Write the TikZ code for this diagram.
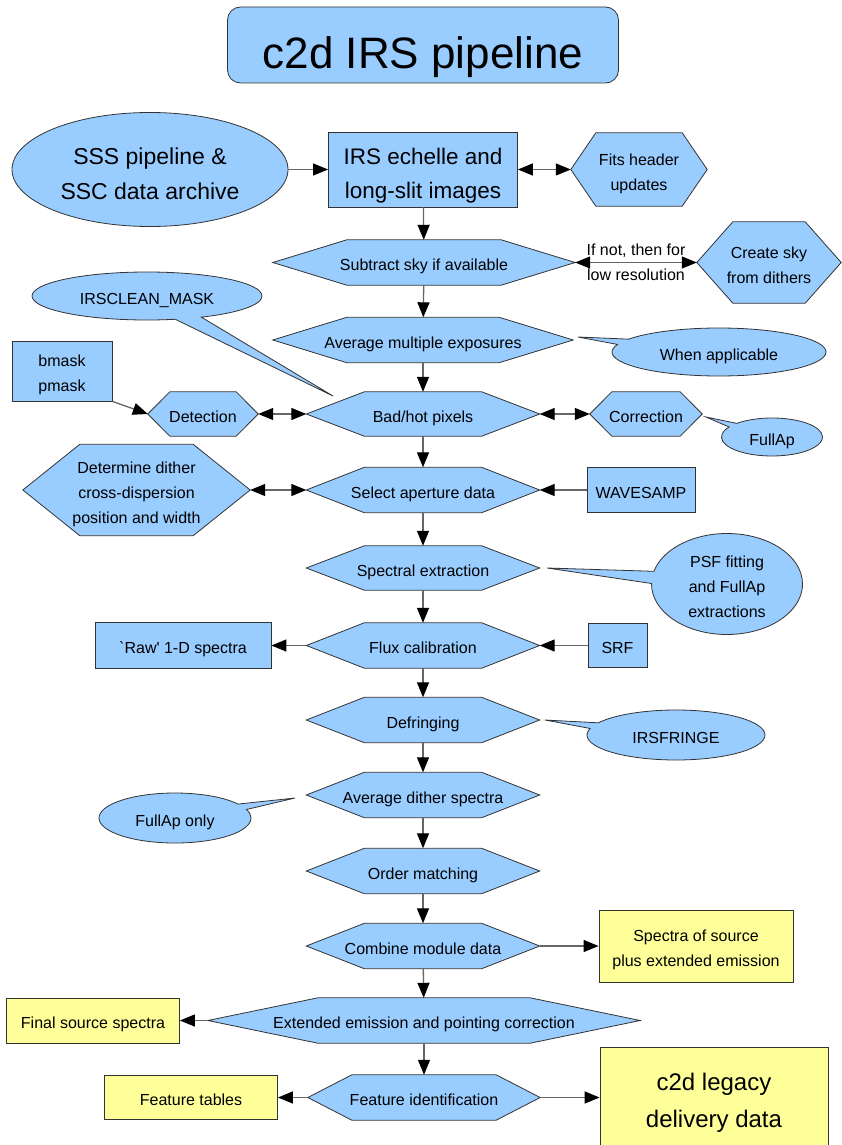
\documentclass[tikz,border=0pt]{standalone}
\usepackage{fontspec}
\setmainfont{Liberation Sans}
\usetikzlibrary{shapes.geometric,shapes.callouts,arrows.meta,backgrounds}
\definecolor{irsBlue}{HTML}{99CCFF}
\definecolor{irsYellow}{HTML}{FFFF99}
\definecolor{irsGrey}{HTML}{333333}
\definecolor{irsLine}{HTML}{666666}
% strut around several lines of node text
\newcommand{\ml}[1]{\rule{0pt}{1.3em}#1\rule[-0.25em]{0pt}{0pt}}

\begin{document}
\begin{tikzpicture}[x=1pt,y=-1pt]
    \tikzset{
        lbl/.style={font=\fontsize{16}{25}\selectfont,align=center,inner sep=0pt},
        txt/.style={lbl,execute at begin node={\rule{0pt}{1.3em}},execute at end node={\rule[-0.25em]{0pt}{0pt}}},
        box/.style={txt,draw=irsGrey,fill=irsBlue,line width=0.8pt},
        outbox/.style={box,fill=irsYellow},
        hexa/.style={txt,minimum height=45pt},
        bubble/.style={txt,ellipse callout,draw=irsGrey,fill=irsBlue,line width=0.8pt,callout pointer arc=14},
        >={Triangle[length=15pt,width=12pt,color=black]},
        link/.style={draw=irsLine,line width=1.3pt,->},
        dlink/.style={draw=irsLine,line width=1.3pt,<->}
    }
    \useasboundingbox (0,0) rectangle (841,1145);

    % title and input
    \node[box,rounded corners=13pt,minimum width=391pt,minimum height=76pt,font=\fontsize{44}{50}\selectfont] (title) at (423,45) {c2d IRS pipeline};
    \node[txt,ellipse,draw=irsGrey,fill=irsBlue,line width=0.8pt,minimum width=276pt,minimum height=114pt,font=\fontsize{23}{35}\selectfont] (sss) at (150,169.5) {\ml{SSS pipeline \&\\SSC data archive}};
    \node[box,minimum width=189pt,minimum height=75pt,font=\fontsize{22.5}{34}\selectfont] (irs) at (423,169.5) {\ml{IRS echelle and\\long-slit images}};
    \node[hexa,minimum width=136pt,minimum height=73pt] (fits) at (639,169.5) {\ml{Fits header\\updates}};

    % main column
    \node[hexa,minimum width=302pt] (sky) at (424,262.5) {Subtract sky if available};
    \node[hexa,minimum width=144pt,minimum height=81pt] (dith) at (769,262.5) {\ml{Create sky\\from dithers}};
    \node[hexa,minimum width=300pt] (avg) at (423,340) {Average multiple exposures};
    \node[hexa,minimum width=233pt,minimum height=44pt] (bad) at (423,414) {Bad/hot pixels};
    \node[hexa,minimum width=110pt,minimum height=44pt] (det) at (203,414) {Detection};
    \node[hexa,minimum width=112pt,minimum height=44pt] (corr) at (646,414) {Correction};
    \node[hexa,minimum width=233pt] (sel) at (423,490) {Select aperture data};
    \node[hexa,minimum width=227pt,minimum height=91pt] (detd) at (136.5,490) {\ml{Determine dither\\cross-dispersion\\position and width}};
    \node[hexa,minimum width=233pt,minimum height=44pt] (spec) at (423,568) {Spectral extraction};
    \node[hexa,minimum width=233pt] (flux) at (423,645.5) {Flux calibration};
    \node[hexa,minimum width=233pt] (defr) at (423,720) {Defringing};
    \node[hexa,minimum width=233pt] (avgd) at (423,795) {Average dither spectra};
    \node[hexa,minimum width=233pt] (order) at (423,871) {Order matching};
    \node[hexa,minimum width=233pt] (comb) at (423,946) {Combine module data};
    \node[hexa,minimum width=432pt] (ext) at (424,1020.5) {Extended emission and pointing correction};
    \node[hexa,minimum width=232pt] (feat) at (424,1097.5) {Feature identification};

    % side boxes
    \node[box,minimum width=100pt,minimum height=60pt] (bmask) at (62,371) {\ml{bmask\\pmask}};
    \node[box,minimum width=108pt,minimum height=45pt] (wave) at (641,490) {WAVESAMP};
    \node[box,minimum width=176pt,minimum height=46pt] (raw) at (183,645.5) {\textasciigrave Raw\textquotesingle{} 1-D spectra};
    \node[box,minimum width=59pt,minimum height=44pt] (srf) at (617.5,645.5) {SRF};
    \node[outbox,minimum width=194pt,minimum height=72pt] (spsrc) at (696,946) {\ml{Spectra of source\\plus extended emission}};
    \node[outbox,minimum width=173pt,minimum height=45pt] (final) at (93,1020.5) {Final source spectra};
    \node[outbox,minimum width=173pt,minimum height=44pt] (ftab) at (191,1097.5) {Feature tables};
    \node[outbox,minimum width=228pt,minimum height=98pt,font=\fontsize{24}{37}\selectfont] (legacy) at (714,1096) {\ml{c2d legacy\\delivery data}};

    % notes
    \coordinate (tipclean) at (333,396);
    \coordinate (tipappl) at (578,337);
    \coordinate (tipfull) at (706,417);
    \coordinate (tippsf) at (547,568);
    \coordinate (tipfringe) at (545,720);
    \coordinate (tiponly) at (295,798);
    \node[bubble,minimum width=230pt,minimum height=48pt,callout absolute pointer={(tipclean)}] (clean) at (147,296) {IRSCLEAN\_MASK};
    \node[bubble,minimum width=214pt,minimum height=48pt,callout absolute pointer={(tipappl)}] (appl) at (719,352) {When applicable};
    \node[bubble,minimum width=101pt,minimum height=38pt,callout absolute pointer={(tipfull)}] (full) at (772,437) {FullAp};
    \node[bubble,inner sep=-3pt,minimum width=151pt,minimum height=101pt,callout absolute pointer={(tippsf)}] (psf) at (727,584) {\ml{PSF fitting\\and FullAp\\extractions}};
    \node[bubble,minimum width=178pt,minimum height=50pt,callout absolute pointer={(tipfringe)}] (fringe) at (676,735) {IRSFRINGE};
    \node[bubble,minimum width=152pt,minimum height=50pt,callout absolute pointer={(tiponly)}] (only) at (175,818) {FullAp only};

    % hexagon outlines
    \begin{scope}[on background layer]
    \foreach \n/\ins in {fits/25,sky/74,dith/36,avg/74,det/22,bad/58,corr/22,detd/57,sel/58,spec/58,flux/58,defr/58,avgd/58,order/58,comb/58,ext/110,feat/44}
        \filldraw[draw=irsGrey,fill=irsBlue,line width=0.8pt] (\n.west) -- ([xshift=\ins pt]\n.north west) -- ([xshift=-\ins pt]\n.north east) -- (\n.east) -- ([xshift=-\ins pt]\n.south east) -- ([xshift=\ins pt]\n.south west) -- cycle;
    \end{scope}

    % connectors
    \draw[link] (sss) -- (irs);
    \draw[dlink] (irs) -- (fits);
    \draw[link] (irs) -- (sky);
    \draw[dlink] (sky) -- node[lbl] {If not, then for\\low resolution} (dith);
    \foreach \a/\b in {sky/avg,avg/bad,bad/sel,sel/spec,spec/flux,flux/defr,defr/avgd,avgd/order,order/comb,comb/ext,ext/feat}
        \draw[link] (\a) -- (\b);
    \draw[link] (bmask.south east) -- (det.west);
    \draw[dlink] (det) -- (bad);
    \draw[dlink] (bad) -- (corr);
    \draw[dlink] (detd) -- (sel);
    \draw[link] (wave) -- (sel);
    \draw[link] (srf) -- (flux);
    \draw[link] (flux) -- (raw);
    \draw[link] (comb) -- (spsrc);
    \draw[link] (ext) -- (final);
    \draw[link] (feat) -- (ftab);
    \draw[link] (feat.east) -- (feat.east -| legacy.west);
\end{tikzpicture}
\end{document}
